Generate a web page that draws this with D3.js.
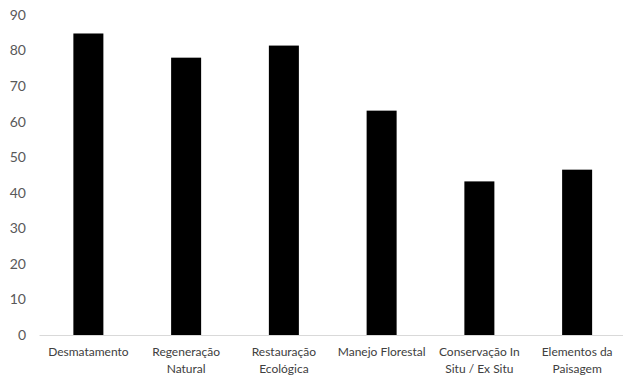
<!DOCTYPE html>
<html><head><meta charset="utf-8">
<script src="https://cdn.jsdelivr.net/npm/d3@7"></script>
<style>body{margin:0;background:#fff}svg{display:block}</style>
</head><body>
<svg id="c" width="623" height="376"></svg>
<script>
const categories = ["Desmatamento", "Regeneração\nNatural", "Restauração\nEcológica", "Manejo Florestal", "Conservação In\nSitu / Ex Situ", "Elementos da\nPaisagem"];
const values = [84.8, 78, 81.4, 63.1, 43.2, 46.5];
const yTicks = [0, 10, 20, 30, 40, 50, 60, 70, 80, 90];

const svg = d3.select("#c");
const font = "Lato, 'Liberation Sans', sans-serif";
const x = d3.scaleBand().domain(categories).range([39.5, 626]).paddingInner(0.693).paddingOuter(0.3465);
const y = d3.scaleLinear().domain([0, 90]).range([335, 15]);

// y tick labels
svg.append("g").selectAll("text").data(yTicks).join("text")
  .attr("x", 26).attr("y", d => y(d)).attr("dy", "0.35em")
  .attr("text-anchor", "end").attr("fill", "#595959")
  .style("font-family", font).style("font-size", "14px")
  .text(d => d);

// bars
svg.append("g").selectAll("rect").data(values).join("rect")
  .attr("x", (d, i) => x(categories[i])).attr("width", x.bandwidth())
  .attr("y", d => y(d)).attr("height", d => y(0) - y(d))
  .attr("fill", "#000");

// x axis line
svg.append("line").attr("x1", 39.5).attr("x2", 623).attr("y1", y(0) + 0.5).attr("y2", y(0) + 0.5)
  .attr("stroke", "#d9d9d9").attr("stroke-width", 1);

// category labels
const lab = svg.append("g").selectAll("text").data(categories).join("text")
  .attr("text-anchor", "middle").attr("fill", "#404040")
  .style("font-family", font).style("font-size", "12px")
  .attr("transform", d => `translate(${x(d) + x.bandwidth() / 2},356)`);
lab.each(function(d) {
  d.split("\n").forEach((t, k) => {
    d3.select(this).append("tspan").attr("x", 0).attr("y", k * 17).text(t);
  });
});
</script>
</body></html>
